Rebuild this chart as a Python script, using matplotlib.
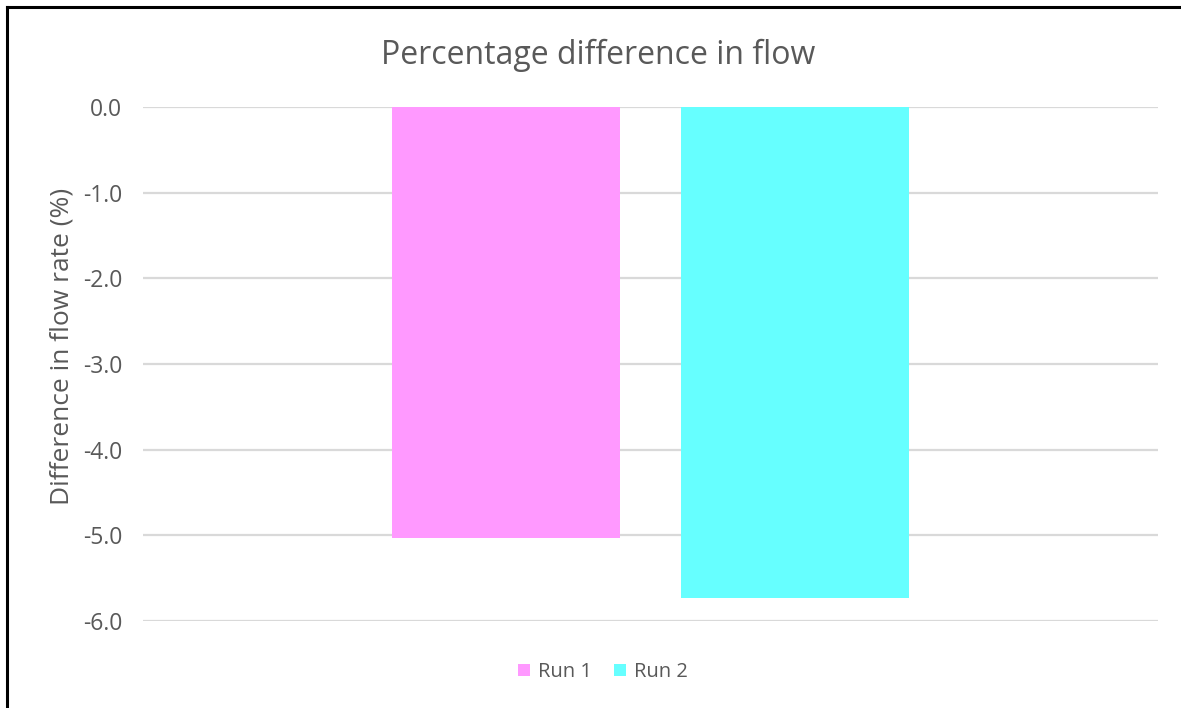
import numpy as np
import matplotlib.pyplot as plt
from matplotlib.lines import Line2D

plt.rcParams['font.family'] = ['Open Sans', 'DejaVu Sans']

# Datos
series = ['Run 1', 'Run 2']
values = [-5.03, -5.73]
colors = ['#FF99FF', '#66FFFF']
yticks = [0, -1, -2, -3, -4, -5, -6]

W, H = 1181, 708
fig = plt.figure(figsize=(W / 100, H / 100), dpi=100)
ax = fig.add_axes([143 / W, 1 - 621 / H, (1158 - 143) / W, (621 - 107) / H])

gray = '#595959'
offsets = [-0.1424, 0.1424]
for name, v, c, off in zip(series, values, colors, offsets):
    ax.bar(off, v, width=0.2246, color=c, label=name, zorder=3)

ax.set_xlim(-0.5, 0.5)
ax.set_ylim(-6, 0)
ax.set_yticks(yticks)
ax.set_yticklabels([f'{t:.1f}' for t in yticks], color=gray, fontsize=16.5)
ax.set_xticks([])
ax.grid(axis='y', color='#D9D9D9', linewidth=1.6, zorder=0)
for s in ax.spines.values():
    s.set_visible(False)
ax.tick_params(axis='y', length=0, pad=15)

fig.text(62 / W, 1 - 346 / H, 'Difference in flow rate (%)', rotation=90, ha='center', va='center',
         color=gray, fontsize=19)
fig.text(598 / W, 1 - 55 / H, 'Percentage difference in flow', ha='center', va='center',
         color=gray, fontsize=23)

leg = fig.legend(loc='center', bbox_to_anchor=(603 / W, 1 - 672 / H), ncol=2, frameon=False,
                 fontsize=14.5, handlelength=0.6, handleheight=0.6, handletextpad=0.4,
                 columnspacing=1.1, labelcolor=gray)

# borde
fig.add_artist(Line2D([7 / W, 7 / W], [0, 1 - 7 / H], color='black', linewidth=2.2))
fig.add_artist(Line2D([7 / W, 1], [1 - 7 / H, 1 - 7 / H], color='black', linewidth=2.2))

fig.savefig('out.png', dpi=100)
